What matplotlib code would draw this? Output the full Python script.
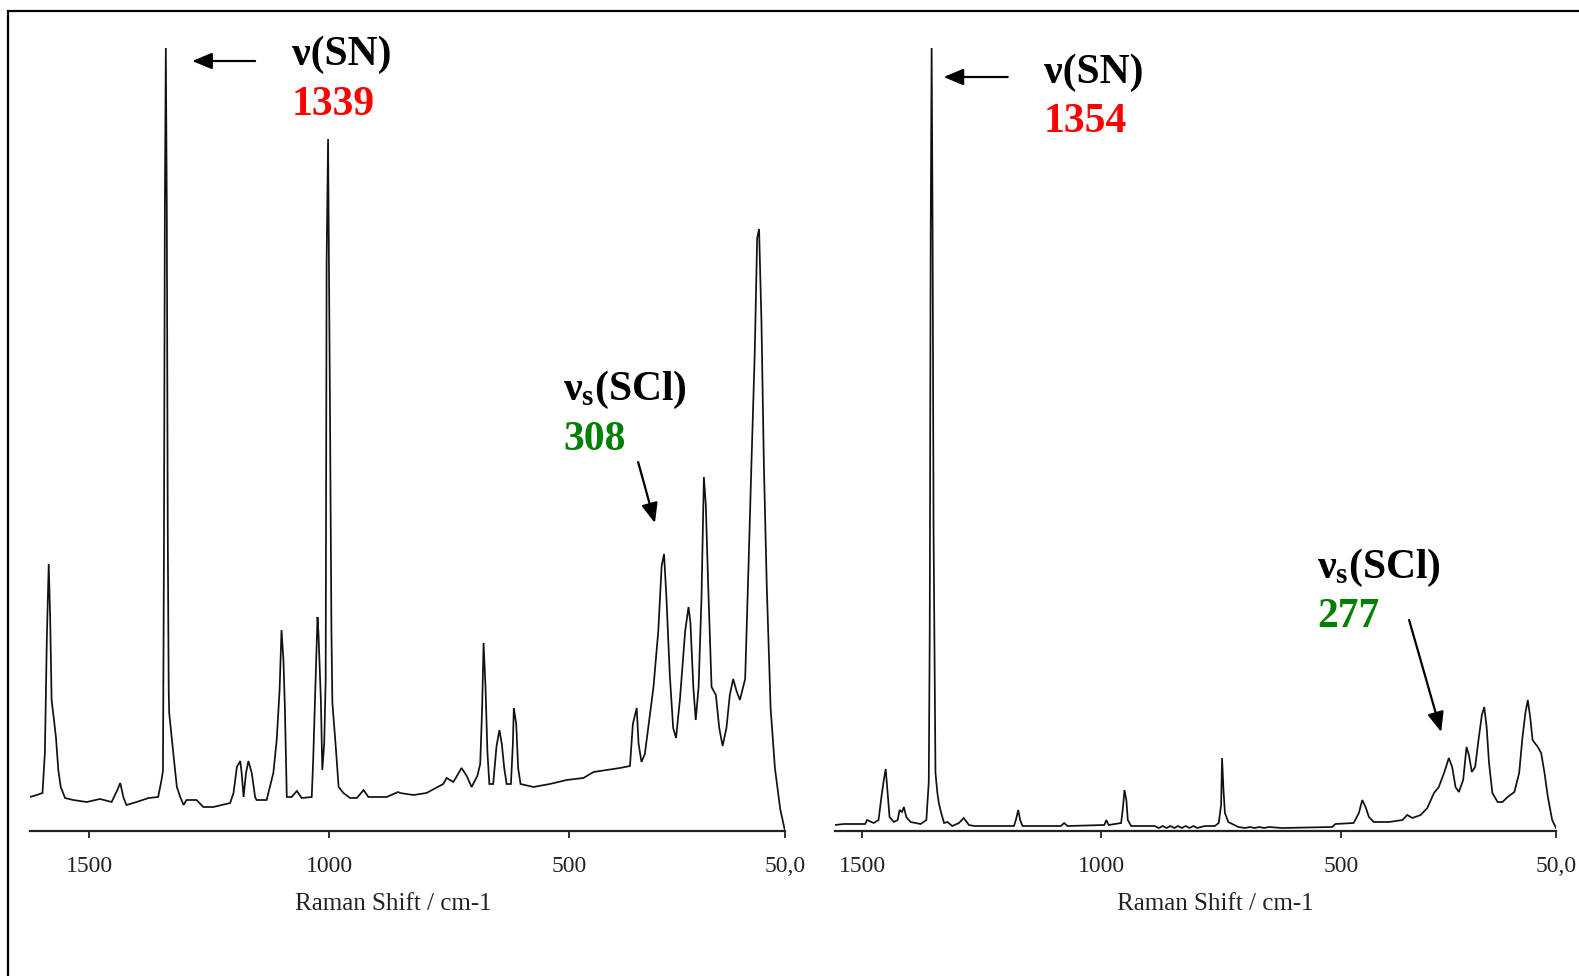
import matplotlib
matplotlib.use("Agg")
import matplotlib.pyplot as plt
from matplotlib.patches import Rectangle

# ---------------- data ----------------
wn_left = [1623, 1609, 1597, 1592, 1588, 1584, 1581, 1578, 1573, 1569, 1564, 1559, 1550, 1533,
           1505, 1477, 1453, 1441, 1435, 1428, 1422, 1401, 1376, 1356, 1349, 1346, 1344, 1342,
           1340, 1338, 1336, 1334, 1333, 1328, 1323, 1317, 1310, 1303, 1297, 1276, 1262, 1241,
           1206, 1199, 1192, 1185, 1182, 1178, 1173, 1168, 1161, 1154, 1151, 1130, 1116, 1109,
           1103, 1099, 1095, 1092, 1088, 1078, 1067, 1057, 1036, 1033, 1028, 1024, 1022, 1017,
           1014, 1010, 1007, 1005, 1002, 998, 995, 993, 987, 980, 970, 956, 942, 928, 918, 880,
           856, 852, 824, 797, 762, 755, 741, 731, 724, 713, 703, 691, 685, 681, 678, 674, 670,
           666, 658, 651, 645, 640, 635, 630, 621, 617, 615, 610, 606, 601, 574, 540, 505, 470,
           449, 422, 394, 373, 367, 359, 355, 349, 342, 335, 324, 314, 307, 302, 297, 290, 283,
           277, 269, 258, 251, 247, 241, 236, 230, 224, 219, 215, 210, 203, 194, 187, 180, 172,
           165, 158, 151, 144, 133, 126, 120, 113, 108, 104, 99, 94, 88, 80, 71, 60, 50]
int_left = [34, 36, 38, 78, 191, 267, 214, 131, 111, 94, 61, 44, 33, 31,
            29, 32, 29, 41, 48, 33, 26, 29, 33, 34, 51, 60, 270, 625,
            783, 625, 300, 140, 118, 94, 71, 44, 34, 26, 31, 31, 24, 24,
            28, 38, 64, 70, 58, 34, 58, 70, 58, 34, 31, 31, 58, 91,
            141, 201, 171, 124, 34, 34, 40, 33, 34, 71, 151, 214, 198, 131,
            61, 88, 150, 570, 692, 420, 200, 128, 91, 44, 38, 33, 33, 41, 34, 34,
            39, 38, 36, 38, 47, 53, 49, 57, 63, 55, 44, 55, 67, 123, 188, 144, 79,
            47, 47, 85, 101, 87, 63, 47, 47, 87, 123, 107, 63, 47, 44, 47, 51, 53,
            59, 61, 63, 65, 107, 123, 87, 69, 77, 103, 144, 200, 265, 277, 233, 156, 103,
            93, 131, 200, 224, 208, 144, 111, 144, 233, 354, 326, 245, 144, 136, 103, 85, 103,
            136, 152, 140, 131, 152, 265, 366, 479, 593, 602, 508, 366, 245, 123, 63, 22, 0]

wn_right = [1557, 1539, 1494, 1490, 1476, 1466, 1460, 1455, 1451, 1447, 1443, 1434, 1426, 1422,
            1417, 1413, 1408, 1399, 1378, 1366, 1361, 1359, 1357, 1355, 1353, 1351, 1347, 1343,
            1340, 1335, 1329, 1322, 1312, 1298, 1288, 1277, 1266, 1183, 1179, 1174, 1170, 1165,
            1085, 1078, 1071, 994, 990, 985, 959, 955, 952, 948, 945, 938, 889, 880, 872, 864,
            856, 848, 840, 832, 824, 816, 808, 800, 784, 763, 755, 750, 748, 745, 742, 735, 714,
            700, 690, 680, 670, 660, 650, 623, 518, 511, 473, 462, 455, 448, 441, 431, 399, 371,
            361, 350, 333, 319, 305, 295, 284, 274, 267, 260, 253, 244, 237, 232, 226, 219, 212,
            205, 200, 195, 190, 183, 172, 162, 151, 137, 127, 120, 114, 109, 104, 99, 88, 81, 74,
            67, 58, 50]
int_right = [6, 7, 7, 11, 8, 11, 34, 51, 62, 38, 14, 9, 11, 21,
             19, 24, 14, 9, 7, 11, 49, 200, 600, 783, 600, 300, 58, 38,
             28, 18, 8, 9, 5, 8, 13, 6, 5, 5, 11, 21, 11, 5,
             5, 8, 5, 6, 11, 6, 8, 24, 41, 31, 11, 5, 5, 3, 5, 3,
             5, 3, 5, 3, 5, 3, 5, 3, 5, 5, 8, 26, 73, 41, 18, 9, 4,
             3, 4, 3, 4, 3, 4, 3, 4, 7, 8, 18, 31, 24, 14, 9, 9, 11,
             16, 13, 16, 23, 38, 44, 58, 73, 64, 44, 39, 51, 84, 76, 59, 64, 91,
             116, 124, 104, 68, 38, 29, 29, 34, 39, 58, 94, 118, 131, 114, 91, 84, 78, 58,
             34, 11, 3]

tick_values = [1500, 1000, 500, 50]
tick_labels = ["1500", "1000", "500", "50,0"]
xlabel_text = "Raman Shift / cm-1"

# ---------------- figure ----------------
W, H = 1579, 976
fig = plt.figure(figsize=(W / 100, H / 100), dpi=100)
fig.patch.set_facecolor("white")

serif = ["Liberation Serif", "DejaVu Serif"]
plt.rcParams["mathtext.fontset"] = "custom"
plt.rcParams["mathtext.bf"] = "Liberation Serif:bold"
plt.rcParams["mathtext.rm"] = "Liberation Serif"

# outer frame
fig.add_artist(Rectangle((8 / W, -0.2), 2.0, 1.2 - 11 / H, transform=fig.transFigure,
                         fill=False, edgecolor="black", lw=1.6, clip_on=False))

bottom = (H - 831) / H
height = 791 / H
ax_l = fig.add_axes([30 / W, bottom, 755 / W, height])
ax_r = fig.add_axes([835 / W, bottom, 721 / W, height])

for ax, wn, it, xl, lab_x in [(ax_l, wn_left, int_left, (1623, 50), 0.481),
                              (ax_r, wn_right, int_right, (1557, 50), 0.527)]:
    ax.plot(wn, it, color="#111111", lw=1.25, solid_joinstyle="miter")
    ax.set_xlim(*xl)
    ax.set_ylim(0, 791)
    ax.patch.set_alpha(0)
    for s in ("left", "right", "top"):
        ax.spines[s].set_visible(False)
    ax.spines["bottom"].set_linewidth(1.6)
    ax.spines["bottom"].set_color("#222222")
    ax.set_yticks([])
    ax.set_xticks(tick_values)
    ax.set_xticklabels(tick_labels, fontfamily=serif, fontsize=17, color="#222222")
    ax.tick_params(axis="x", direction="out", length=5, width=1.3, pad=13, color="#222222")
    ax.set_xlabel(xlabel_text, fontfamily=serif, fontsize=18, color="#222222")
    ax.xaxis.set_label_coords(lab_x, -0.078)

# ---------------- annotations ----------------
big = dict(fontfamily=serif, fontweight="bold", fontsize=30, va="baseline", ha="left")
arrow = dict(arrowstyle="-|>,head_length=0.6,head_width=0.25", color="black", lw=1.6,
             mutation_scale=20, shrinkA=0, shrinkB=0)

# left panel
ax_l.text(1077, 766, "ν(SN)", color="black", **big)
ax_l.text(1077, 716, "1339", color="#ff0000", **big)
ax_l.annotate("", xy=(1285, 770), xytext=(1154, 770), arrowprops=arrow)
ax_l.text(512, 431, r"$\mathbf{ν_s(SCl)}$", color="black", **big)
ax_l.text(512, 381, "308", color="#008000", **big)
ax_l.annotate("", xy=(321, 308), xytext=(356, 369), arrowprops=arrow)

# right panel
ax_r.text(1120, 748, "ν(SN)", color="black", **big)
ax_r.text(1120, 699, "1354", color="#ff0000", **big)
ax_r.annotate("", xy=(1330, 754), xytext=(1196, 754), arrowprops=arrow)
ax_r.text(550, 253, r"$\mathbf{ν_s(SCl)}$", color="black", **big)
ax_r.text(550, 204, "277", color="#008000", **big)
ax_r.annotate("", xy=(290, 99), xytext=(357, 211), arrowprops=arrow)

fig.savefig("out.png", dpi=100, facecolor="white")
